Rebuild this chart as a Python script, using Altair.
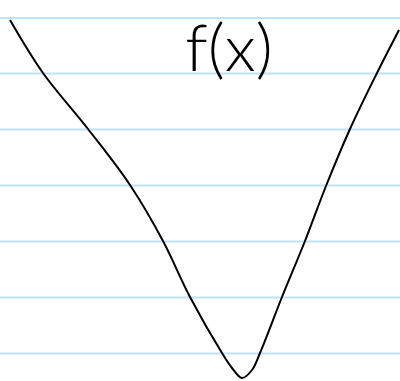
import altair as alt
import pandas as pd

# Sketched curve f(x): horizontal position and height above the bottom edge
curve_x = [10, 43, 88, 130, 163, 190, 222, 232, 242, 252, 260, 282, 305, 326, 350, 377, 399]
curve_y = [361, 308, 252, 196, 140, 84, 28, 13, 3, 11, 28, 84, 140, 195, 252, 308, 351]

# Ruled notebook lines (height above the bottom edge)
rule_y = [363, 307.5, 251.5, 195.5, 139.5, 83.5, 27.5]

label_text = ["f(x)"]

W, H = 400, 381
xs = alt.Scale(domain=[0, W], nice=False, zero=False)
ys = alt.Scale(domain=[0, H], nice=False, zero=False)

curve = pd.DataFrame({"x": curve_x, "y": curve_y})
rules = pd.DataFrame({"y": rule_y})
label = pd.DataFrame({"t": label_text, "x": [229], "y": [330]})

paper = alt.Chart(rules).mark_rule(color="#bfe2f6", strokeWidth=2).encode(
    y=alt.Y("y:Q", scale=ys, axis=None)
)

line = alt.Chart(curve).mark_line(
    color="black", strokeWidth=2, interpolate="catmull-rom"
).encode(
    x=alt.X("x:Q", scale=xs, axis=None),
    y=alt.Y("y:Q", scale=ys, axis=None),
)

text = alt.Chart(label).mark_text(
    font="Lato", fontSize=66, fontWeight=300, color="black", align="center", baseline="middle"
).encode(
    x=alt.X("x:Q", scale=xs, axis=None),
    y=alt.Y("y:Q", scale=ys, axis=None),
    text="t:N",
)

chart = (paper + line + text).properties(
    width=W, height=H, padding=0, autosize=alt.AutoSizeParams(type="none")
).configure_view(stroke=None)

chart.save("out.html", embed_options={"renderer": "svg", "actions": False})
